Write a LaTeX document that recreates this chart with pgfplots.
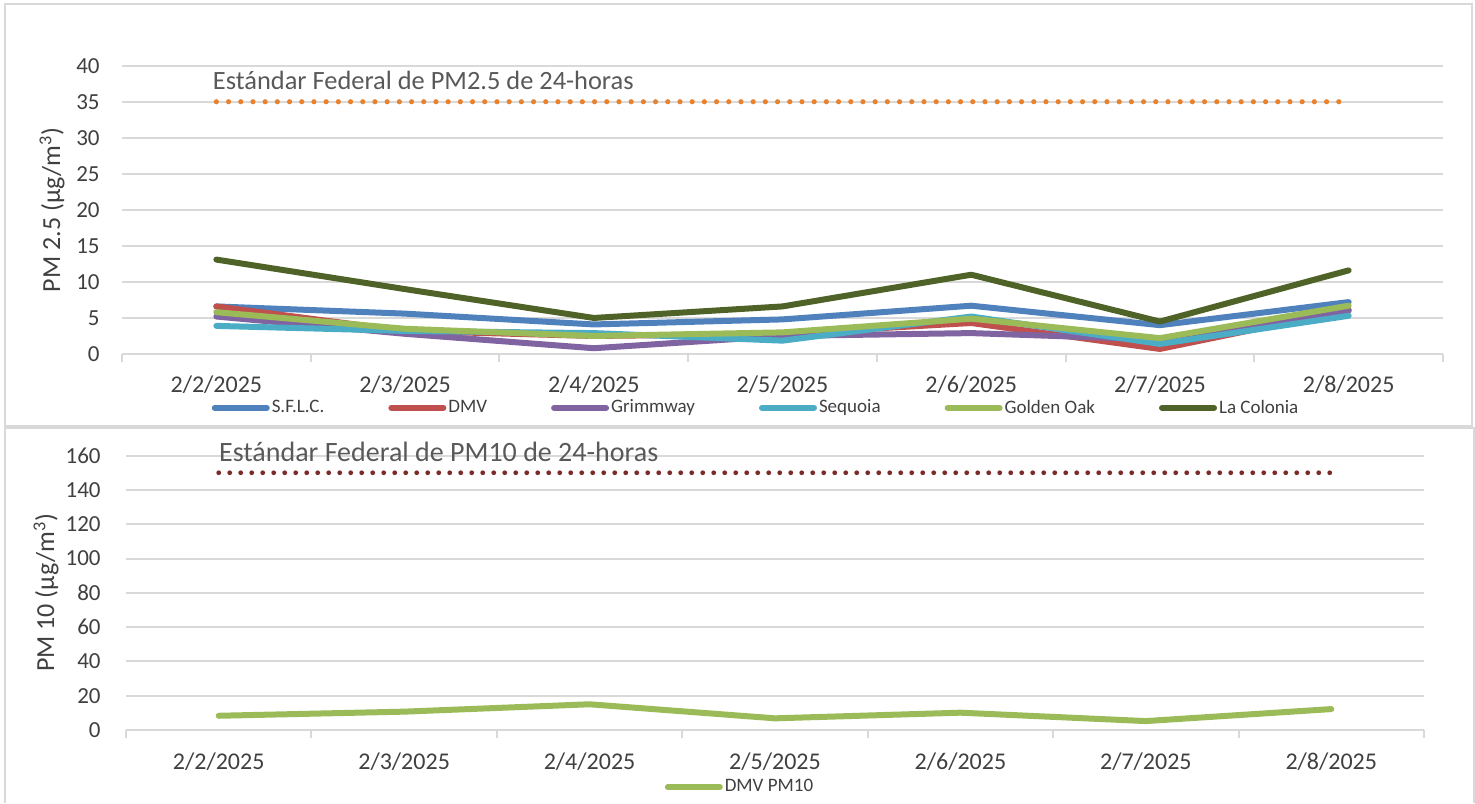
\documentclass[border=0pt]{standalone}
\usepackage{fontspec}
\setmainfont{Carlito}
\usepackage{pgfplots}
\pgfplotsset{compat=1.18}
\definecolor{cblue}{HTML}{4F81BD}
\definecolor{cred}{HTML}{C0504D}
\definecolor{cpurple}{HTML}{8064A2}
\definecolor{caqua}{HTML}{4BACC6}
\definecolor{cgreen}{HTML}{9BBB59}
\definecolor{colive}{HTML}{4F6228}
\definecolor{corange}{HTML}{E9822F}
\definecolor{cdarkred}{HTML}{7B2A2A}
\definecolor{gridc}{HTML}{D9D9D9}
\definecolor{txt}{HTML}{404040}
\definecolor{ttxt}{HTML}{595959}
\pgfplotsset{
  excel/.style={
    scale only axis,
    clip=false,
    xmin=-0.5, xmax=6.5,
    xtick={0,...,6},
    xticklabels={2/2/2025,2/3/2025,2/4/2025,2/5/2025,2/6/2025,2/7/2025,2/8/2025},
    minor xtick={-0.5,0.5,...,6.5},
    axis x line*=bottom,
    axis y line*=left,
    y axis line style={draw=none},
    x axis line style={draw=gridc, line width=1pt},
    major tick length=0pt,
    minor tick length=4pt,
    tick align=outside,
    minor tick style={draw=gridc, line width=1pt},
    ymajorgrids,
    major grid style={draw=gridc, line width=1pt},
    /pgf/number format/assume math mode=true,
    tick label style={font=\fontsize{11.5}{13}\selectfont, text=txt},
    xticklabel style={font=\fontsize{12}{14}\selectfont, anchor=base, yshift=-19.5pt},
    yticklabel style={anchor=east, inner sep=0pt, xshift=-11pt},
    ylabel style={font=\fontsize{13}{15}\selectfont, text=txt, rotate=0},
    legend style={draw=none, fill=none, font=\fontsize{9.5}{11}\selectfont, text=txt,
      /tikz/every even column/.append style={column sep=31pt},
      nodes={inner sep=1pt}},
    legend cell align=left,
    legend image code/.code={\draw[#1, line width=3pt, line cap=round] (0pt,0pt) -- (26pt,0pt);},
    every axis plot/.append style={line width=3pt, line join=round, line cap=round, mark=none},
  }
}
\begin{document}
\begin{tikzpicture}
\path[use as bounding box] (0,0) rectangle (737.5pt,401.5pt);
\draw[gridc, line width=1pt] (2.5pt,399.5pt) rectangle (736pt,188.5pt);
\draw[gridc, line width=1pt] (2.5pt,0pt) -- (2.5pt,187.5pt) -- (737pt,187.5pt) -- (737pt,0pt);

\begin{axis}[excel,
  at={(61pt,224.5pt)}, anchor=south west,
  width=660.5pt, height=144.15pt,
  ymin=0, ymax=40, ytick={0,5,...,40},
  ylabel={PM 2.5 (µg/m\textsuperscript{3})},
  ylabel style={at={(axis description cs:-0.053,0.5)}, anchor=center},
  legend columns=6,
  legend style={at={(0.48,-0.187)}, anchor=center},
]
\addplot[corange, line width=2.6pt, dash pattern=on 0pt off 6.1pt, line cap=round, forget plot]
  coordinates {(0,35) (6,35)};
\addplot[cblue] coordinates {(0,6.6) (1,5.6) (2,4.1) (3,4.8) (4,6.7) (5,4.0) (6,7.2)};
\addlegendentry{S.F.L.C.}
\addplot[cred] coordinates {(0,6.6) (1,3.2) (2,2.5) (3,2.8) (4,4.3) (5,0.7) (6,6.1)};
\addlegendentry{DMV}
\addplot[cpurple] coordinates {(0,5.2) (1,2.8) (2,0.8) (3,2.5) (4,2.9) (5,2.0) (6,6.0)};
\addlegendentry{Grimmway}
\addplot[caqua] coordinates {(0,3.9) (1,3.2) (2,2.9) (3,1.85) (4,5.2) (5,1.4) (6,5.3)};
\addlegendentry{Sequoia}
\addplot[cgreen] coordinates {(0,5.8) (1,3.5) (2,2.5) (3,3.0) (4,4.9) (5,2.2) (6,6.7)};
\addlegendentry{Golden Oak}
\addplot[colive] coordinates {(0,13.1) (1,9.0) (2,5.0) (3,6.6) (4,11.0) (5,4.5) (6,11.6)};
\addlegendentry{La Colonia}
\node[anchor=base west, inner sep=0pt, font=\fontsize{13.2}{15}\selectfont, text=ttxt]
  at (axis cs:-0.02,36.7) {Estándar Federal de PM2.5 de 24-horas};
\end{axis}

\begin{axis}[excel,
  at={(63pt,36.5pt)}, anchor=south west,
  width=649pt, height=137.2pt,
  ymin=0, ymax=160, ytick={0,20,...,160},
  yticklabel style={xshift=-1.5pt},
  ylabel={PM 10 (µg/m\textsuperscript{3})},
  ylabel style={at={(axis description cs:-0.0616,0.5)}, anchor=center},
  legend columns=1,
  legend style={at={(0.473,-0.208)}, anchor=center},
]
\addplot[cdarkred, line width=2.4pt, dash pattern=on 0pt off 5.5pt, line cap=round, forget plot]
  coordinates {(0,150) (6,150)};
\addplot[cgreen] coordinates {(0,8.3) (1,10.7) (2,15.0) (3,6.8) (4,10.1) (5,5.2) (6,12.2)};
\addlegendentry{DMV PM10}
\node[anchor=base west, inner sep=0pt, font=\fontsize{14}{16}\selectfont, text=ttxt]
  at (axis cs:0.0,156.3) {Estándar Federal de PM10 de 24-horas};
\end{axis}
\end{tikzpicture}
\end{document}
